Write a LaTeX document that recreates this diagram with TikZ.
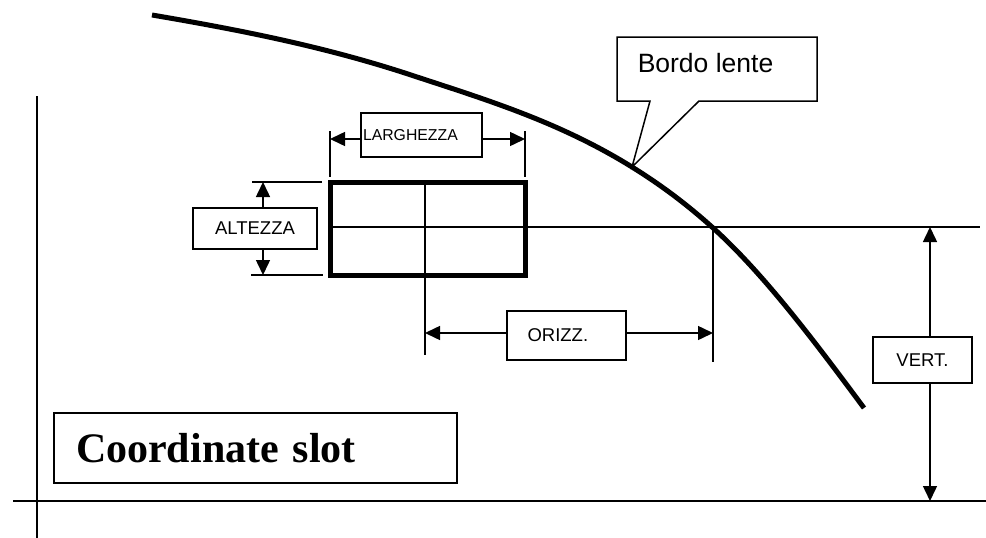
\documentclass[tikz,border=0pt]{standalone}
\usepackage{fontspec}
\setmainfont{Liberation Sans}
\newfontfamily\titlefont{Liberation Serif}
\usetikzlibrary{arrows.meta}

\begin{document}
\begin{tikzpicture}[
  x=1pt, y=-1pt, line width=1.5pt,
  >={Triangle[length=15pt,width=14pt]},
  lbl/.style={draw, line width=1.5pt, inner sep=0pt, font=\fontsize{18.5}{20}\selectfont},
  lens/.style={line width=5pt}
]
  \useasboundingbox (0,0) rectangle (986,538);

  % reference axes
  \draw (37,96) -- (37,538);
  \draw (13,501) -- (986,501);

  % lens edge
  \draw[lens] (152,15) .. controls (238.3,29.7) and (324.7,46.5) .. (411,75)
    .. controls (484.7,99.3) and (558.3,121.3) .. (632,167)
    .. controls (658.7,183.5) and (685.3,203) .. (712,227)
    .. controls (762.7,272.6) and (813.3,339.6) .. (864,408);

  % slot
  \node[draw, line width=5pt, minimum width=195pt, minimum height=93pt, inner sep=0pt] (slot) at (427.5,228.5) {};
  \draw (330,227) -- (980,227);
  \draw (425,182) -- (425,355);
  \draw (713,227) -- (713,362);

  % LARGHEZZA
  \draw (330,131) -- (330,177);
  \draw (525,131) -- (525,177);
  \coordinate (lx1) at (330,139);
  \coordinate (lx2) at (525,139);
  \node[lbl, font=\fontsize{15.8}{18}\selectfont, minimum width=121pt, minimum height=44pt,
        text width=117pt, align=left] (larg) at (421.5,135) {LARGHEZZA};
  \draw[->] (larg.west |- lx1) -- (lx1);
  \draw[->] (larg.east |- lx2) -- (lx2);

  % ALTEZZA
  \draw (252,182) -- (322,182);
  \draw (251,275) -- (323,275);
  \coordinate (ay1) at (263,182);
  \coordinate (ay2) at (263,275);
  \node[lbl, minimum width=124pt, minimum height=41pt] (alt) at (255,228.5) {ALTEZZA};
  \draw[->] (alt.north -| ay1) -- (ay1);
  \draw[->] (alt.south -| ay2) -- (ay2);

  % ORIZZ.
  \coordinate (ox1) at (425,333);
  \coordinate (ox2) at (713,333);
  \node[lbl, minimum width=119pt, minimum height=49pt, inner xsep=20.5pt,
        text width=78pt, align=left] (oriz) at (566.5,335.5) {ORIZZ.};
  \draw[->] (oriz.west |- ox1) -- (ox1);
  \draw[->] (oriz.east |- ox2) -- (ox2);

  % VERT.
  \coordinate (vy1) at (930,227);
  \coordinate (vy2) at (930,501);
  \node[lbl, minimum width=99pt, minimum height=46pt] (vert) at (922.5,360) {VERT.};
  \draw[->] (vert.north -| vy1) -- (vy1);
  \draw[->] (vert.south -| vy2) -- (vy2);

  % callout
  \coordinate (tip) at (632,167);
  \draw (617,37) -- (817,37) -- (817,101) -- (699,101) -- (tip) -- (650,101) -- (617,101) -- cycle;
  \node[font=\fontsize{26.5}{30}\selectfont, anchor=base west, inner sep=0pt] (bordo) at (637,72) {Bordo lente};

  % title
  \node[draw, inner xsep=22pt, inner ysep=0pt, minimum width=403pt, minimum height=70pt,
        text width=359pt, align=left, font=\titlefont\bfseries\fontsize{42}{48}\selectfont] (title) at (255.5,448) {Coordinate slot};
\end{tikzpicture}
\end{document}
